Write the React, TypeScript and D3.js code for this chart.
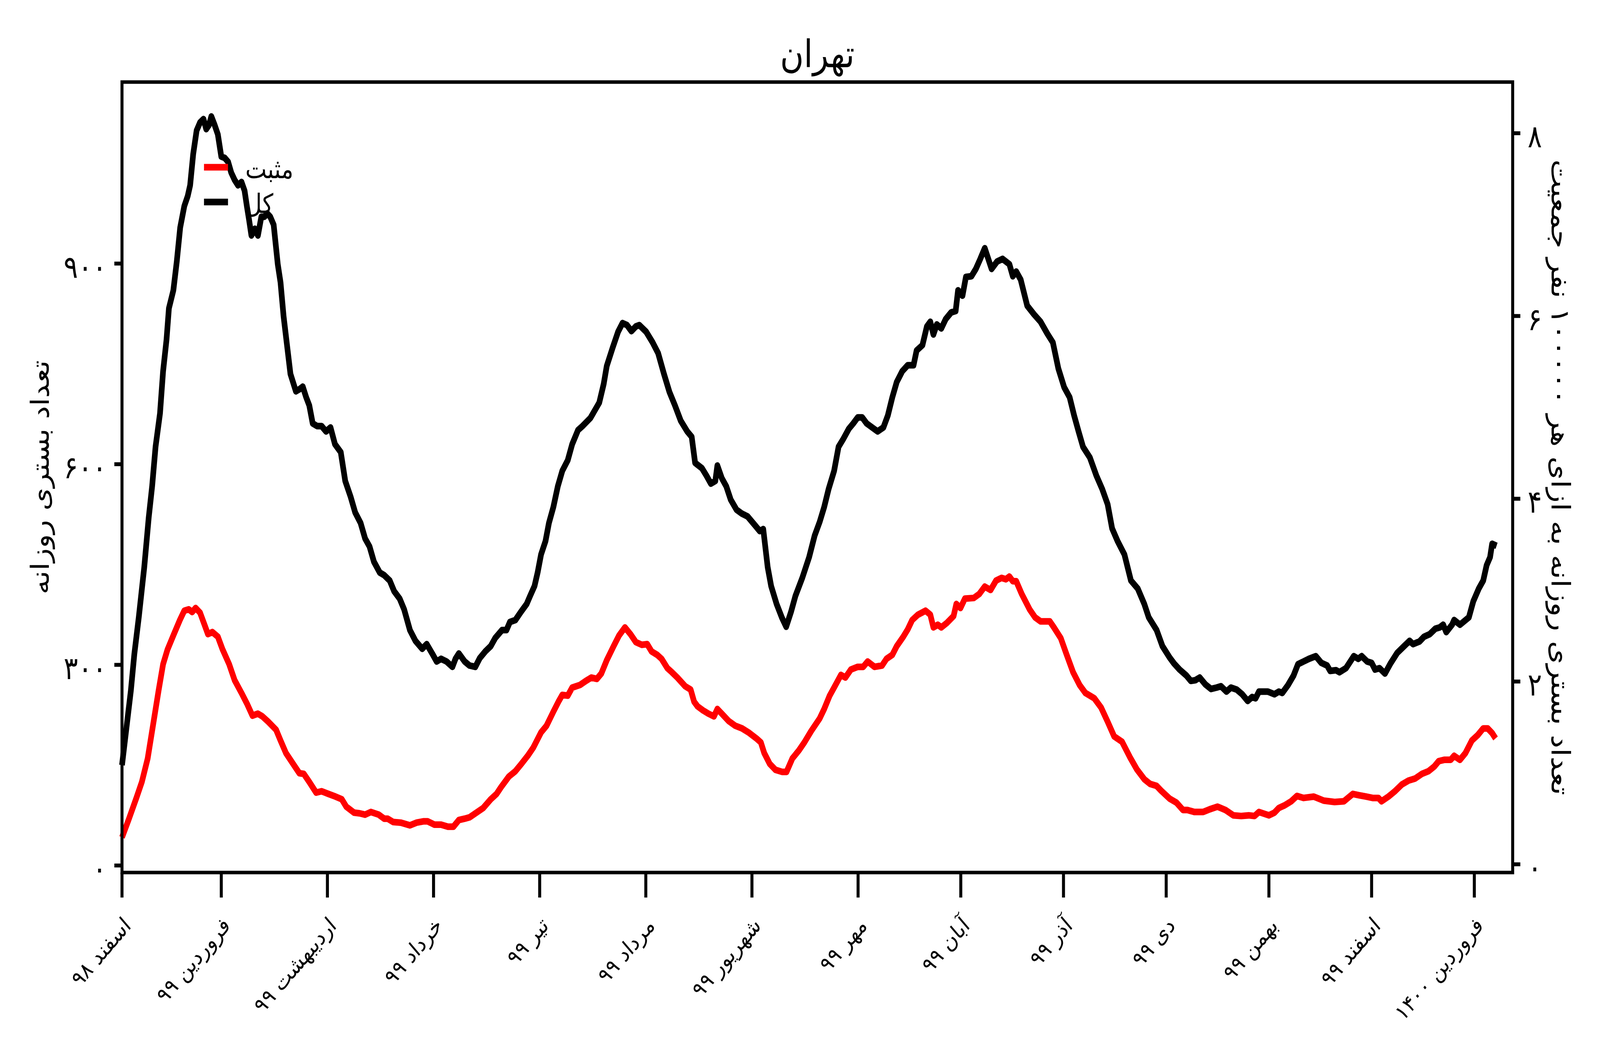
import React from 'react';
import * as d3 from 'd3';

// Day offsets counted from 1 Esfand 1398 (2020-02-20)
const xTickDays = [0, 29, 60, 91, 122, 153, 184, 215, 245, 275, 305, 335, 365, 395];
const xTickLabels = [
  'اسفند ۹۸', 'فروردین ۹۹', 'اردیبهشت ۹۹', 'خرداد ۹۹', 'تیر ۹۹', 'مرداد ۹۹', 'شهریور ۹۹',
  'مهر ۹۹', 'آبان ۹۹', 'آذر ۹۹', 'دی ۹۹', 'بهمن ۹۹', 'اسفند ۹۹', 'فروردین ۱۴۰۰',
];
const leftTicks = [0, 300, 600, 900];
const rightTicks = [0, 2, 4, 6, 8];

const titleText = 'تهران';
const leftLabel = 'تعداد بستری روزانه';
const rightLabel = 'تعداد بستری روزانه به ازای هر ۱۰۰۰۰۰ نفر جمعیت';
const legendLabels = ['مثبت', 'کل'];
const seriesColors = ['#ff0000', '#000000'];

// total hospitalised (black)
const totalPoints: [number, number][] = [
  [0,150],[2.6,262],[3.6,316],[4.9,371],[6.5,446],[7.8,520],[8.8,567],[9.8,626],[11.1,676],[12.0,739],
  [13.0,786],[13.7,833],[15.0,860],[16.0,903],[17.0,954],[18.2,986],[19.2,1001],[19.9,1017],[20.8,1064],
  [21.8,1099],[22.8,1111],[23.8,1116],[24.6,1101],[25.4,1107],[26.1,1120],[27.0,1108],[28.0,1093],
  [29.0,1060],[30.0,1058],[31.0,1052],[31.9,1036],[32.9,1025],[33.9,1017],[34.9,1022],[35.8,1009],
  [36.5,985],[37.1,966],[37.8,942],[38.8,952],[39.7,942],[40.7,970],[41.6,970],[42.4,975],[43.3,970],
  [44.3,958],[45.5,899],[46.3,872],[47.2,821],[48.2,778],[49.2,735],[50.8,709],[51.8,712],[52.8,716],
  [53.8,700],[54.7,688],[55.7,661],[57.0,657],[58.3,657],[59.6,649],[60.9,655],[62.2,630],[63.9,618],
  [65.2,575],[66.8,551],[68.1,528],[69.7,512],[71.0,489],[72.3,477],[73.6,454],[75.3,438],[76.6,434],
  [78.2,426],[79.5,410],[81.1,399],[82.4,383],[84.1,352],[85.7,336],[87.7,324],[89.0,331],[90.6,317],
  [91.9,305],[93.2,309],[94.8,305],[96.5,297],[97.4,309],[98.4,317],[100.1,305],[101.5,299],[103.2,297],
  [104.5,310],[106.1,320],[107.7,328],[109.0,340],[111.0,352],[112.3,352],[113.3,364],[114.9,367],
  [116.5,379],[118.2,391],[119.2,403],[120.5,418],[121.4,438],[122.4,465],[123.7,485],[124.7,512],
  [126.0,536],[127.3,567],[128.6,590],[130.2,606],[131.5,630],[133.2,651],[134.5,657],[136.8,669],
  [139.4,692],[140.7,720],[141.6,747],[143.3,774],[144.9,798],[146.2,811],[147.5,808],[148.8,799],
  [150.1,806],[151.1,808],[153.1,798],[155.0,782],[156.6,766],[158.3,735],[159.9,708],[161.5,688],
  [163.2,665],[165.1,649],[166.4,641],[167.4,602],[169.4,594],[170.7,583],[172.0,571],[173.3,575],
  [173.9,598],[175.2,579],[176.5,567],[177.8,547],[179.5,532],[181.1,526],[182.7,522],[185.0,508],
  [186.3,500],[187.3,503],[188.6,446],[189.6,418],[191.2,391],[192.8,370],[194.0,357],[195.4,379],
  [196.7,403],[198.7,430],[200.7,461],[202.3,493],[203.8,514],[205.1,536],[206.4,563],[208.0,590],
  [209.3,626],[210.6,637],[212.3,653],[213.6,661],[214.9,670],[216.2,670],[217.5,661],[219.1,655],
  [220.7,649],[222.4,655],[223.7,673],[225.0,700],[226.3,723],[227.9,739],[229.5,748],[231.2,748],
  [232.1,770],[233.8,778],[235.1,806],[236.1,813],[237.0,794],[238.0,809],[239.3,803],[240.6,817],
  [242.2,827],[243.5,829],[244.2,860],[245.5,852],[246.5,880],[248.1,881],[249.4,892],[250.7,907],
  [252.0,923],[254.0,892],[255.6,903],[257.2,907],[259.2,899],[260.2,881],[261.2,888],[262.5,876],
  [264.4,837],[266.4,824],[268.3,813],[270.3,795],[271.9,782],[273.5,743],[275.2,715],[276.8,700],
  [278.1,673],[279.4,649],[280.7,626],[282.7,610],[284.6,583],[286.3,563],[287.9,540],[289.2,504],
  [290.8,485],[292.8,465],[294.7,426],[296.7,414],[298.6,391],[299.9,371],[302.2,352],[303.9,328],
  [306.0,311],[307.3,302],[308.9,293],[310.9,284],[312.2,276],[313.5,277],[314.8,281],[316.4,271],
  [318.1,264],[319.7,266],[321.0,268],[322.6,260],[323.9,266],[325.6,263],[327.2,256],[328.8,246],
  [330.1,252],[331.1,250],[332.1,260],[334.7,260],[336.6,256],[337.9,260],[338.9,258],[340.6,270],
  [342.2,284],[343.5,301],[345.1,305],[346.7,309],[348.7,313],[350.3,303],[352.0,299],[352.9,291],
  [354.6,292],[355.6,289],[357.5,295],[359.8,313],[361.1,309],[362.1,313],[363.7,305],[365.0,303],
  [366.0,293],[367.3,295],[368.9,287],[370.5,302],[372.5,318],[374.5,328],[376.1,336],[377.1,331],
  [379.0,335],[380.3,342],[382.0,346],[383.6,354],[384.9,356],[385.9,360],[386.8,349],[388.5,360],
  [389.1,367],[390.8,360],[393.4,371],[394.7,395],[396.3,414],[397.6,426],[398.6,449],[399.6,461],
  [400.2,481],[401.5,478],
];

// positive-test hospitalised (red)
const positivePoints: [number, number][] = [
  [0,42],[1.9,68],[4.2,101],[5.8,125],[7.5,160],[9.1,211],[10.7,262],[12.0,301],[13.3,323],[15.0,344],
  [16.9,367],[18.2,381],[19.5,383],[20.5,379],[21.5,385],[22.8,378],[24.1,360],[25.1,346],[26.4,349],
  [28.0,342],[29.3,324],[31.3,301],[32.9,277],[34.9,258],[36.5,242],[38.1,224],[39.7,227],[41.0,223],
  [42.7,215],[45.0,203],[46.3,187],[47.9,168],[50.5,148],[51.8,138],[53.1,137],[54.7,125],[56.7,109],
  [58.3,111],[60.3,107],[61.9,104],[64.2,99],[65.5,88],[67.8,79],[69.4,78],[71.0,76],[72.7,80],[75.0,76],
  [76.6,70],[77.6,70],[79.2,65],[81.5,64],[84.1,60],[86.0,64],[88.0,66],[89.3,66],[91.3,61],[93.2,61],
  [95.2,58],[96.8,58],[98.4,68],[100.1,70],[101.5,72],[103.5,79],[105.5,86],[107.7,99],[109.4,107],
  [110.7,117],[113.0,133],[114.9,141],[116.5,151],[118.5,164],[120.1,176],[122.4,199],[124.0,209],
  [126.0,230],[127.6,246],[128.6,255],[130.2,254],[131.5,266],[133.8,270],[135.5,276],[137.1,281],
  [138.7,279],[140.0,287],[141.6,307],[143.6,328],[145.2,344],[146.9,356],[148.5,346],[150.1,334],
  [151.8,330],[153.4,331],[154.7,320],[156.3,315],[157.6,309],[159.3,295],[160.6,289],[162.2,281],
  [164.5,268],[166.1,263],[167.1,245],[168.1,238],[169.7,232],[171.3,227],[172.9,223],[173.9,234],
  [175.2,227],[177.2,216],[179.1,209],[181.1,205],[183.0,199],[185.3,190],[186.6,184],[187.6,168],
  [189.2,152],[190.9,143],[192.8,140],[194.1,140],[195.8,160],[197.7,172],[199.3,184],[201.3,201],
  [203.8,220],[205.1,234],[206.7,254],[208.0,266],[210.0,285],[211.3,281],[212.9,293],[214.9,297],
  [216.5,297],[217.8,305],[219.8,297],[222.0,299],[223.3,309],[225.0,315],[226.3,328],[228.2,342],
  [229.5,353],[230.8,367],[232.5,375],[234.7,381],[236.1,375],[237.0,356],[238.3,360],[239.3,356],
  [241.0,363],[242.9,373],[243.7,391],[244.9,385],[246.2,399],[248.8,400],[250.4,406],[252.0,417],
  [253.7,412],[255.3,426],[256.9,430],[258.2,428],[259.2,432],[260.2,425],[261.2,425],[262.8,406],
  [265.1,383],[266.7,371],[268.3,365],[271.0,365],[272.2,356],[274.2,340],[275.8,317],[277.8,289],
  [279.7,270],[281.4,258],[284.0,250],[286.0,236],[287.9,215],[289.8,193],[292.1,185],[294.4,162],
  [296.4,144],[298.6,129],[300.3,122],[302.2,119],[303.5,112],[306.0,100],[308.0,94],[309.9,83],
  [311.2,83],[313.2,80],[315.8,80],[317.7,84],[320.0,88],[322.3,83],[324.6,75],[326.9,74],[329.1,75],
  [330.8,74],[332.1,80],[335.0,75],[336.6,79],[337.9,86],[339.6,90],[341.5,96],[343.2,104],[345.1,101],
  [348.1,103],[351.0,97],[354.2,95],[356.9,96],[359.5,107],[361.4,105],[363.4,103],[365.3,101],
  [367.0,101],[367.9,96],[369.9,103],[371.8,111],[373.8,121],[375.8,127],[377.7,130],[379.7,137],
  [381.6,141],[383.3,148],[384.6,156],[386.2,158],[388.1,158],[389.1,164],[390.8,158],[392.4,168],
  [394.3,187],[396.0,195],[397.6,205],[398.9,205],[400.2,198],[401.2,190],
];

const toFa = (n: number) => String(n).replace(/\d/g, (d) => '۰۱۲۳۴۵۶۷۸۹'[+d]);

const W = 4800;
const H = 2700;
const L = 366;
const R = 4538;
const T = 210;
const B = 2233;
const FONT = "'DejaVu Sans', sans-serif";

export default function App() {
  const x = d3.scaleLinear().domain([0, 406.2]).range([L, R]);
  const yL = d3.scaleLinear().domain([-10.5, 1171.4]).range([B, T]);
  const yR = d3.scaleLinear().domain([-0.09, 8.56]).range([B, T]);

  const line = d3
    .line<[number, number]>()
    .x((d) => x(d[0]))
    .y((d) => yL(d[1]));

  const series = [positivePoints, totalPoints];

  return (
    <svg
      viewBox={`0 0 ${W} ${H}`}
      preserveAspectRatio="none"
      style={{ position: 'fixed', left: 0, top: 0, width: '100vw', height: '100vh', background: '#fff' }}
      fontFamily={FONT}
    >
      <rect x={0} y={0} width={W} height={H} fill="#fff" />

      {series.map((s, i) => (
        <path
          key={i}
          d={line(s) || ''}
          fill="none"
          stroke={seriesColors[i]}
          strokeWidth={17}
          strokeLinejoin="round"
        />
      ))}

      {/* frame */}
      <rect x={L} y={T} width={R - L} height={B - T} fill="none" stroke="#000" strokeWidth={9} />

      {/* left ticks */}
      {leftTicks.map((t) => (
        <g key={'l' + t}>
          <line x1={L - 23} x2={L} y1={yL(t)} y2={yL(t)} stroke="#000" strokeWidth={10} />
          <text x={320} y={yL(t) + 36} fontSize={80} textAnchor="end">
            {toFa(t)}
          </text>
        </g>
      ))}

      {/* right ticks */}
      {rightTicks.map((t) => (
        <g key={'r' + t}>
          <line x1={R} x2={R + 23} y1={yR(t)} y2={yR(t)} stroke="#000" strokeWidth={10} />
          <text x={4583} y={yR(t) + 36} fontSize={80} textAnchor="start">
            {toFa(t)}
          </text>
        </g>
      ))}

      {/* bottom ticks */}
      {xTickDays.map((d, i) => (
        <g key={'x' + d}>
          <line x1={x(d)} x2={x(d)} y1={B} y2={B + 64} stroke="#000" strokeWidth={9} />
          <text
            transform={`translate(${x(d) + 30},${2372}) rotate(-45)`}
            fontSize={58}
            textAnchor="end"
          >
            {xTickLabels[i]}
          </text>
        </g>
      ))}

      {/* title */}
      <text x={(L + R) / 2} y={172} fontSize={97} textAnchor="middle">
        {titleText}
      </text>

      {/* axis labels */}
      <text transform={`translate(146,${(T + B) / 2}) rotate(-90)`} fontSize={75} textAnchor="middle">
        {leftLabel}
      </text>
      <text transform={`translate(4655,${(T + B) / 2}) rotate(90)`} fontSize={77} textAnchor="middle">
        {rightLabel}
      </text>

      {/* legend */}
      {legendLabels.map((lab, i) => (
        <g key={lab}>
          <line x1={612} x2={684} y1={428 + i * 89} y2={428 + i * 89} stroke={seriesColors[i]} strokeWidth={17} />
          <text x={736} y={456 + i * 89} fontSize={68} textAnchor="start">
            {lab}
          </text>
        </g>
      ))}
    </svg>
  );
}
